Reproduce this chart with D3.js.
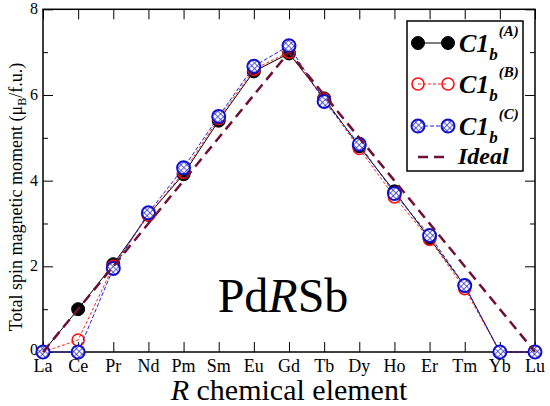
<!DOCTYPE html>
<html><head><meta charset="utf-8">
<script src="https://cdn.jsdelivr.net/npm/d3@7"></script>
<style>body{margin:0;background:#fff}svg{display:block}</style>
</head><body><svg id="c" width="550" height="406"></svg>
<script>
const elements = ["La","Ce","Pr","Nd","Pm","Sm","Eu","Gd","Tb","Dy","Ho","Er","Tm","Yb","Lu"];
const seriesA = [0, 1.0, 2.05, 3.2, 4.15, 5.4, 6.55, 6.97, 5.92, 4.8, 3.75, 2.65, 1.55, 0, 0];
const seriesB = [0, 0.28, 2.0, 3.2, 4.2, 5.45, 6.6, 7.0, 5.9, 4.75, 3.62, 2.63, 1.48, 0, 0];
const seriesC = [0, 0, 1.95, 3.25, 4.3, 5.5, 6.67, 7.15, 5.85, 4.85, 3.7, 2.72, 1.55, 0, 0];
const idealElements = ["La","Gd","Lu"];
const idealValues = [0, 7, 0];
const yMajorTicks = [0,2,4,6,8];
const yMinorTicks = [1,3,5,7];

const FONT = "'Liberation Serif', 'Times New Roman', 'DejaVu Serif', serif";
const svg = d3.select("#c").attr("font-family", FONT);
const L=43,R=535,T=9.3,B=352;
const x = d3.scalePoint().domain(elements).range([L,R]);
const y = d3.scaleLinear().domain([0,8]).range([B,T]);

const defs = svg.append("defs");
const pat = defs.append("pattern").attr("id","hatch").attr("patternUnits","userSpaceOnUse")
  .attr("width",4).attr("height",4).attr("patternTransform","rotate(45)");
pat.append("rect").attr("width",4).attr("height",4).attr("fill","#fff");
pat.append("line").attr("x1",0).attr("y1",0).attr("x2",0).attr("y2",4).attr("stroke","#2222cc").attr("stroke-width",1.4);
pat.append("line").attr("x1",0).attr("y1",0).attr("x2",4).attr("y2",0).attr("stroke","#2222cc").attr("stroke-width",1.4);

// frame
svg.append("rect").attr("x",L).attr("y",T).attr("width",R-L).attr("height",B-T)
  .attr("fill","none").attr("stroke","#000").attr("stroke-width",1.5);

// axes (ticks inward)
const gB = svg.append("g").attr("transform",`translate(0,${B})`)
  .call(d3.axisTop(x).tickSize(10).tickFormat(""));
const gT = svg.append("g").attr("transform",`translate(0,${T})`)
  .call(d3.axisBottom(x).tickSize(10).tickFormat(""));
const gL = svg.append("g").attr("transform",`translate(${L},0)`)
  .call(d3.axisRight(y).tickValues(yMajorTicks).tickSize(10).tickFormat(""));
const gLm = svg.append("g").attr("transform",`translate(${L},0)`)
  .call(d3.axisRight(y).tickValues(yMinorTicks).tickSize(5).tickFormat(""));
const gR = svg.append("g").attr("transform",`translate(${R},0)`)
  .call(d3.axisLeft(y).tickValues(yMajorTicks).tickSize(10).tickFormat(""));
const gRm = svg.append("g").attr("transform",`translate(${R},0)`)
  .call(d3.axisLeft(y).tickValues(yMinorTicks).tickSize(5).tickFormat(""));
[gB,gT,gL,gLm,gR,gRm].forEach(g=>{g.select(".domain").remove();g.selectAll("line").attr("stroke","#000").attr("stroke-width",1);});

// tick labels
svg.append("g").selectAll("text").data(elements).join("text").attr("font-family",FONT)
  .attr("x",d=>x(d)).attr("y",B+20).attr("text-anchor","middle").attr("font-size",18).text(d=>d);
svg.append("g").selectAll("text").data(yMajorTicks).join("text").attr("font-family",FONT)
  .attr("x",L-5).attr("y",d=>d===0?y(d)+3:y(d)+5).attr("text-anchor","end").attr("font-size",16).text(d=>d);

// axis titles
const xt = svg.append("text").attr("font-family",FONT).attr("x",289).attr("y",400).attr("text-anchor","middle").attr("font-size",30);
xt.append("tspan").attr("font-style","italic").text("R");
xt.append("tspan").text(" chemical element");
const yt = svg.append("text").attr("font-family",FONT).attr("transform","translate(22,197) rotate(-90)").attr("text-anchor","middle").attr("font-size",18);
yt.append("tspan").text("Total spin magnetic moment (μ");
yt.append("tspan").attr("font-size",12).attr("dy",4).text("B");
yt.append("tspan").attr("dy",-4).text("/f.u.)");

// annotation
const an = svg.append("text").attr("font-family",FONT).attr("x",283).attr("y",312).attr("text-anchor","middle").attr("font-size",48);
an.append("tspan").text("Pd");
an.append("tspan").attr("font-style","italic").text("R");
an.append("tspan").text("Sb");

const line = d3.line().x(d=>x(d[0])).y(d=>y(d[1]));
function zip(vals){return elements.map((e,i)=>[e,vals[i]]);}

const series = [
  {vals:seriesA, stroke:"#000", dash:null, sw:1, r:6.5, fill:"#000", mstroke:"#000", msw:1},
  {vals:seriesB, stroke:"#ff2020", dash:"3,2", sw:1, r:6, fill:"none", mstroke:"#ff1010", msw:1.6},
  {vals:seriesC, stroke:"#2020dd", dash:"4,2", sw:1, r:6.5, fill:"url(#hatch)", mstroke:"#1010cc", msw:2}
];
series.forEach(s=>{
  const d = zip(s.vals);
  svg.append("path").datum(d).attr("d",line).attr("fill","none").attr("stroke",s.stroke)
    .attr("stroke-width",s.sw).attr("stroke-dasharray",s.dash);
  svg.append("g").selectAll("circle").data(d).join("circle")
    .attr("cx",p=>x(p[0])).attr("cy",p=>y(p[1])).attr("r",s.r)
    .attr("fill",s.fill).attr("stroke",s.mstroke).attr("stroke-width",s.msw);
});
const idealColor = "#6e1038";
svg.append("path").datum(idealElements.map((e,i)=>[e,idealValues[i]])).attr("d",line)
  .attr("fill","none").attr("stroke",idealColor).attr("stroke-width",2.5).attr("stroke-dasharray","10,6");

// legend
const lg = svg.append("g");
lg.append("rect").attr("x",407).attr("y",21).attr("width",116).attr("height",150)
  .attr("fill","#fff").attr("stroke","#000").attr("stroke-width",1.5);
const legRows = [
  {s:series[0], label:"(A)", cy:43},
  {s:series[1], label:"(B)", cy:84},
  {s:series[2], label:"(C)", cy:126}
];
legRows.forEach(r=>{
  lg.append("line").attr("x1",418).attr("x2",448).attr("y1",r.cy).attr("y2",r.cy)
    .attr("stroke",r.s.stroke).attr("stroke-width",r.s.sw).attr("stroke-dasharray",r.s.dash);
  [418,448].forEach(cx=>lg.append("circle").attr("cx",cx).attr("cy",r.cy).attr("r",r.s.r)
    .attr("fill",r.s.fill).attr("stroke",r.s.mstroke).attr("stroke-width",r.s.msw));
  const t = lg.append("text").attr("font-family",FONT).attr("x",459).attr("y",r.cy+9).attr("font-size",26)
    .attr("font-weight","bold").attr("font-style","italic");
  t.append("tspan").text("C1");
  t.append("tspan").attr("font-size",17).attr("dy",8).text("b");
  t.append("tspan").attr("font-size",15).attr("dy",-24).attr("dx",1).text(r.label);
});
lg.append("line").attr("x1",418).attr("x2",448).attr("y1",157).attr("y2",157)
  .attr("stroke",idealColor).attr("stroke-width",2.5).attr("stroke-dasharray","10,6");
lg.append("text").attr("font-family",FONT).attr("x",458).attr("y",164).attr("font-size",24).attr("font-weight","bold")
  .attr("font-style","italic").text("Ideal");
</script></body></html>
